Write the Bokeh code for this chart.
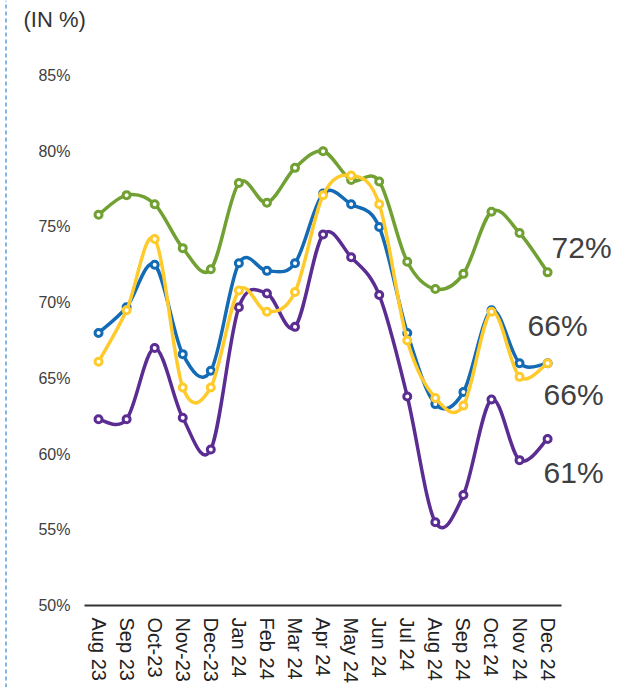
import math
from bokeh.plotting import figure
from bokeh.layouts import row, column
from bokeh.models import FixedTicker, PrintfTickFormatter, Range1d
from bokeh.core.properties import value
from bokeh.embed import file_html
from bokeh.resources import INLINE

months = ["Aug 23", "Sep 23", "Oct-23", "Nov-23", "Dec-23", "Jan 24", "Feb 24", "Mar 24",
          "Apr 24", "May 24", "Jun 24", "Jul 24", "Aug 24", "Sep 24", "Oct 24", "Nov 24", "Dec 24"]
green = [75.8, 77.1, 76.5, 73.6, 72.2, 77.9, 76.6, 78.9, 80.0, 78.1, 78.0, 72.7, 70.9, 71.9, 76.0, 74.6, 72.0]
blue = [68.0, 69.7, 72.5, 66.6, 65.5, 72.6, 72.1, 72.6, 77.2, 76.5, 75.0, 68.0, 63.3, 64.1, 69.5, 66.0, 66.0]
yellow = [66.1, 69.5, 74.2, 64.4, 64.4, 70.8, 69.4, 70.7, 77.1, 78.4, 76.5, 67.5, 63.7, 63.2, 69.4, 65.1, 66.0]
purple = [62.3, 62.3, 67.0, 62.4, 60.3, 69.7, 70.6, 68.4, 74.5, 73.0, 70.5, 63.8, 55.5, 57.3, 63.6, 59.6, 61.0]
end_labels = ["72%", "66%", "66%", "61%"]
y_ticks = [50, 55, 60, 65, 70, 75, 80, 85]
title_text = "(IN %)"

FONT = "Liberation Sans"
TXT = "#404040"
H = 687
LEFT_W = 12
MAIN_W = 626
TITLE_H = 40

# thin strip carrying the dashed border line
strip = figure(width=LEFT_W, height=H, output_backend="svg", toolbar_location=None,
               x_range=Range1d(0, LEFT_W), y_range=Range1d(0, H),
               x_axis_location=None, y_axis_location=None, min_border=0)
strip.frame_align = False
strip.grid.grid_line_color = None
strip.outline_line_color = None
strip.segment(x0=[5.5], y0=[0], x1=[5.5], y1=[H], line_color="#86b6e4",
              line_width=2, line_dash="4 3")

# title strip
tfig = figure(width=MAIN_W, height=TITLE_H, output_backend="svg", toolbar_location=None,
              x_range=Range1d(0, MAIN_W), y_range=Range1d(0, TITLE_H),
              x_axis_location=None, y_axis_location=None, min_border=0)
tfig.frame_align = False
tfig.grid.grid_line_color = None
tfig.outline_line_color = None
tfig.text(x=[11], y=[21], text=[title_text], text_font=value(FONT),
          text_font_size="22px", text_color="#333333",
          text_align="left", text_baseline="middle")

p = figure(width=MAIN_W, height=H - TITLE_H, output_backend="svg", toolbar_location=None,
           x_range=Range1d(-0.5, 19.06), y_range=Range1d(50, 85),
           min_border_left=72, min_border_right=5, min_border_top=75 - TITLE_H,
           min_border_bottom=82)
p.frame_align = False
p.outline_line_color = None
p.grid.grid_line_color = None
p.background_fill_color = "white"

xs = list(range(len(months)))

# x axis
p.xaxis.ticker = FixedTicker(ticks=xs)
p.xaxis.major_label_overrides = {i: m for i, m in enumerate(months)}
p.xaxis.bounds = (-0.5, len(months) - 0.5)
p.xaxis.major_label_orientation = -math.pi / 2
p.xaxis.major_label_text_font = FONT
p.xaxis.major_label_text_font_size = "20px"
p.xaxis.major_label_text_color = "#222222"
p.xaxis.major_label_standoff = 12
p.xaxis.major_tick_line_color = None
p.xaxis.major_tick_out = 0
p.xaxis.minor_tick_line_color = None
p.xaxis.axis_line_color = "#333333"
p.xaxis.axis_line_width = 2

# y axis
p.yaxis.ticker = FixedTicker(ticks=y_ticks)
p.yaxis.formatter = PrintfTickFormatter(format="%d%%")
p.yaxis.major_label_text_font = FONT
p.yaxis.major_label_text_font_size = "16px"
p.yaxis.major_label_text_color = TXT
p.yaxis.major_label_standoff = 14
p.yaxis.axis_line_color = None
p.yaxis.major_tick_line_color = None
p.yaxis.major_tick_out = 0
p.yaxis.minor_tick_line_color = None


def smooth(xv, yv):
    n = len(xv)
    seg = dict(x0=[], y0=[], x1=[], y1=[], cx0=[], cy0=[], cx1=[], cy1=[])
    for i in range(n - 1):
        a = max(i - 1, 0)
        d = min(i + 2, n - 1)
        seg["x0"].append(xv[i]); seg["y0"].append(yv[i])
        seg["x1"].append(xv[i + 1]); seg["y1"].append(yv[i + 1])
        seg["cx0"].append(xv[i] + (xv[i + 1] - xv[a]) / 6)
        seg["cy0"].append(yv[i] + (yv[i + 1] - yv[a]) / 6)
        seg["cx1"].append(xv[i + 1] - (xv[d] - xv[i]) / 6)
        seg["cy1"].append(yv[i + 1] - (yv[d] - yv[i]) / 6)
    return seg


series = [
    (green, "#71a033"),
    (purple, "#5b2c92"),
    (blue, "#136ab5"),
    (yellow, "#ffca2c"),
]
for vals, col in series:
    s = smooth(xs, vals)
    p.bezier(x0=s["x0"], y0=s["y0"], x1=s["x1"], y1=s["y1"],
             cx0=s["cx0"], cy0=s["cy0"], cx1=s["cx1"], cy1=s["cy1"],
             line_color=col, line_width=3.5)
    p.scatter(xs, vals, size=7, marker="circle", fill_color="white",
              line_color=col, line_width=3)

# end labels
last = len(months) - 1
label_specs = [
    (green, end_labels[0], 4, -25),
    (blue, end_labels[1], -20, -38),
    (yellow, end_labels[2], -4, 31),
    (purple, end_labels[3], -4, 34),
]
for vals, txt, dx, dy in label_specs:
    p.text(x=[last], y=[vals[last]], text=[txt], x_offset=dx, y_offset=dy,
           text_font=value(FONT), text_font_size="30px", text_color=TXT,
           text_align="left", text_baseline="middle")

layout = row(strip, column(tfig, p, spacing=0), spacing=0)
open("out.html", "w").write(file_html(layout, INLINE))
